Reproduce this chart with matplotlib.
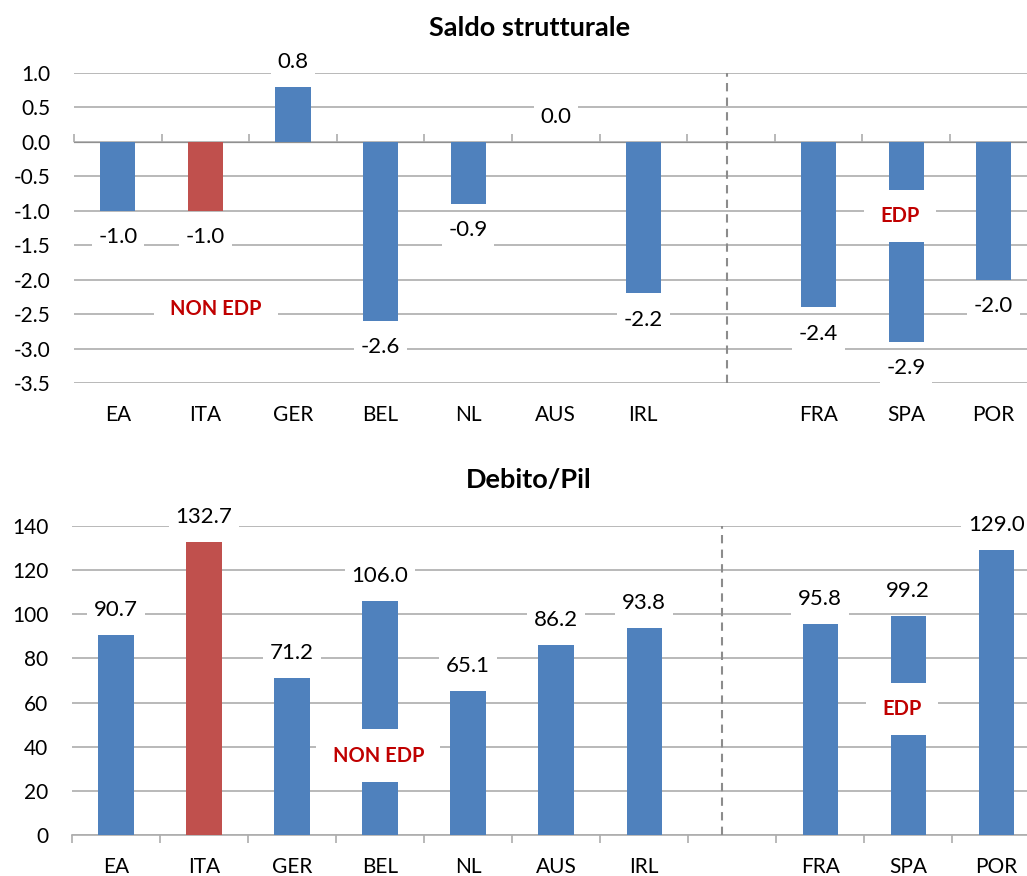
import numpy as np
import matplotlib
matplotlib.use("Agg")
import matplotlib.pyplot as plt

plt.rcParams['font.family'] = ['Lato', 'DejaVu Sans']

categories = ['EA', 'ITA', 'GER', 'BEL', 'NL', 'AUS', 'IRL', '', 'FRA', 'SPA', 'POR']
saldo = [-1.0, -1.0, 0.8, -2.6, -0.9, 0.0, -2.2, np.nan, -2.4, -2.9, -2.0]
debito = [90.7, 132.7, 71.2, 106.0, 65.1, 86.2, 93.8, np.nan, 95.8, 99.2, 129.0]
highlight = 'ITA'

BLUE = '#4F81BD'
RED = '#C0504D'
DARKRED = '#C00000'
GRID = '#ADADAD'

fig = plt.figure(figsize=(10.27, 8.76), dpi=100)
ax1 = fig.add_axes([0.0721, 0.5628, 0.9279, 0.3539])
ax2 = fig.add_axes([0.0701, 0.0468, 0.9299, 0.3527])

x = np.arange(len(categories))
colors = [RED if c == highlight else BLUE for c in categories]


def setup(ax, vals, ylim, yticks, fmt, xlim_right, zero_frac):
    ax.bar(x, np.nan_to_num(vals), width=0.4, color=colors, zorder=2)
    ax.set_xlim(-0.5, xlim_right)
    ax.set_ylim(*ylim)
    ax.set_yticks(yticks)
    ax.set_yticklabels([fmt.format(v) for v in yticks])
    ax.set_xticks(x)
    ax.set_xticklabels(categories)
    ax.tick_params(axis='both', length=0, labelsize=15, colors='black')
    ax.tick_params(axis='y', pad=17)
    ax.tick_params(axis='x', pad=16)
    for s in ax.spines.values():
        s.set_visible(False)
    ax.yaxis.grid(True, color=GRID, linewidth=1.2)
    ax.set_axisbelow(True)
    # category axis line with boundary ticks
    sec = ax.secondary_xaxis(zero_frac)
    sec.set_xticks(np.arange(-0.5, len(categories) + 0.5, 1.0))
    sec.set_xticklabels([])
    sec.tick_params(direction='out', length=6, color=GRID, width=1.2)
    sec.spines['bottom'].set_color(GRID)
    sec.spines['bottom'].set_linewidth(1.2)
    for i, v in enumerate(vals):
        if np.isnan(v):
            continue
        off = 18 if v >= 0 else -19
        ax.annotate(f'{v:.1f}', (i, v), xytext=(0, off), textcoords='offset points',
                    ha='center', va='center', fontsize=16, zorder=5,
                    bbox=dict(boxstyle='square,pad=0.3', fc='white', ec='none'))


setup(ax1, saldo, (-3.5, 1.0), np.arange(-3.5, 1.01, 0.5), '{:.1f}', 10.38, 3.5 / 4.5)
setup(ax2, debito, (0, 140), np.arange(0, 141, 20), '{:.0f}', 10.35, 0.0)

ax1.axvline(6.95, color='#8C8C8C', linestyle=(0, (4, 3)), linewidth=1.5, zorder=3)
ax2.axvline(6.89, color='#8C8C8C', linestyle=(0, (4, 3)), linewidth=1.5, zorder=3)

box = dict(boxstyle='square,pad=0.8', fc='white', ec='none')
ax1.text(1.12, -2.43, 'NON EDP', color=DARKRED, fontsize=14.5, fontweight='bold',
         ha='center', va='center', bbox=box, zorder=6)
ax1.text(8.93, -1.08, 'EDP', color=DARKRED, fontsize=14.5, fontweight='bold',
         ha='center', va='center', bbox=box, zorder=6)
ax2.text(2.98, 36, 'NON EDP', color=DARKRED, fontsize=14.5, fontweight='bold',
         ha='center', va='center', bbox=box, zorder=6)
ax2.text(8.93, 57, 'EDP', color=DARKRED, fontsize=14.5, fontweight='bold',
         ha='center', va='center', bbox=box, zorder=6)

fig.text(530 / 1027, 1 - 28 / 876, 'Saldo strutturale', ha='center', va='center',
         fontsize=19.5, fontweight='bold')
fig.text(529 / 1027, 1 - 480 / 876, 'Debito/Pil', ha='center', va='center',
         fontsize=19.5, fontweight='bold')

fig.savefig('out.png', dpi=100, facecolor='white')
